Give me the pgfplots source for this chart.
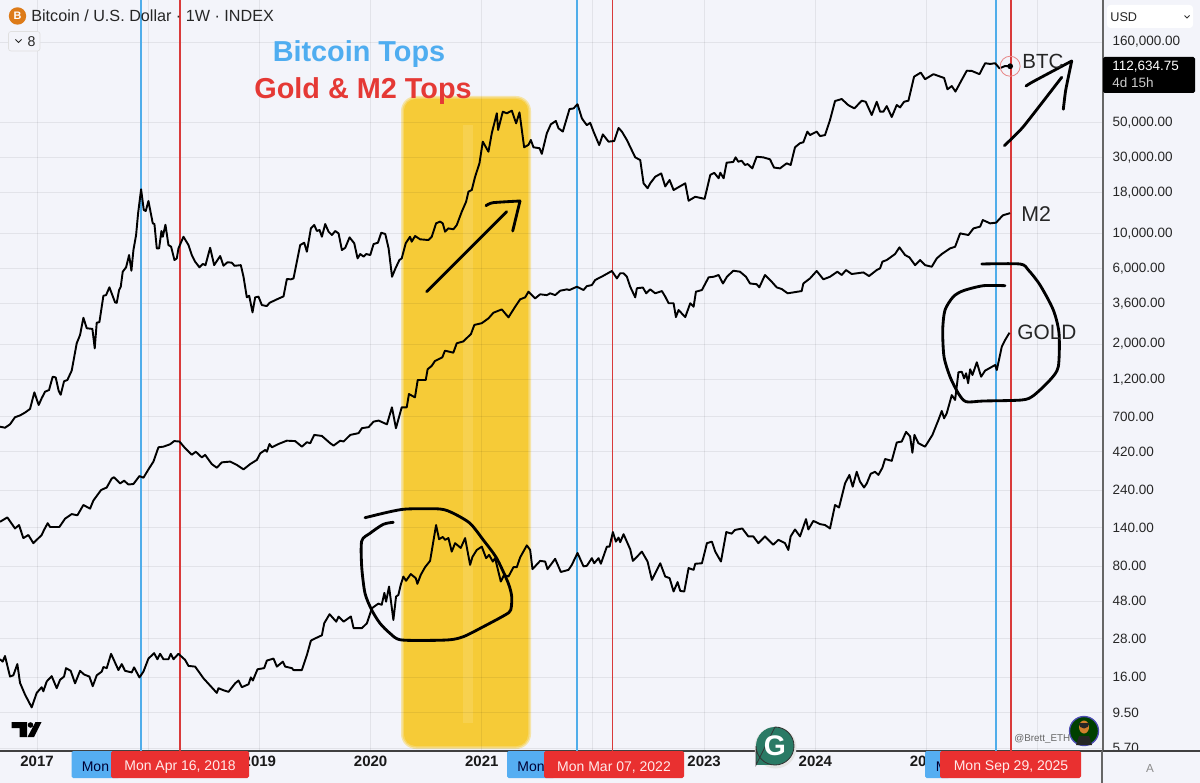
\documentclass[border=0pt]{standalone}
\usepackage{pgfplots}
\usepackage{pgfplotstable}
\usepackage{fontspec}
\setmainfont{Liberation Sans}
\pgfplotsset{compat=1.18}
\definecolor{bgc}{HTML}{F3F4FA}
\definecolor{bluec}{HTML}{4FADEA}
\definecolor{redc}{HTML}{D93A3A}
\definecolor{boxred}{HTML}{E93030}
\definecolor{boxblue}{HTML}{55AEF2}
\definecolor{titleblue}{HTML}{4FADF0}
\definecolor{titlered}{HTML}{E53935}
\definecolor{yel}{HTML}{F6CB37}
\definecolor{yelm}{HTML}{F6D667}
\definecolor{yelo}{HTML}{F5E4A8}
\definecolor{yellt}{HTML}{F7D14F}
\definecolor{gteal}{HTML}{2A7A65}
\newcommand{\fs}[1]{\fontsize{#1}{#1}\selectfont}
\pgfplotstableread{
x y
2016.667 604
2016.712 595
2016.757 625
2016.802 693
2016.847 711
2016.892 741
2016.937 781
2016.976 994
2017.015 827
2017.042 913
2017.072 1003
2017.108 1028
2017.141 1247
2017.168 1234
2017.195 1014
2017.213 960
2017.243 1167
2017.273 1189
2017.312 1362
2017.357 2026
2017.387 2283
2017.417 2933
2017.447 2519
2017.498 2493
2017.519 1883
2017.537 2732
2017.561 2750
2017.597 4034
2017.621 4072
2017.651 4563
2017.702 3665
2017.717 3640
2017.738 4385
2017.753 4598
2017.771 5720
2017.801 6095
2017.828 7283
2017.849 5800
2017.867 7830
2017.891 9737
2017.909 13340
2017.936 18890
2017.960 14000
2017.978 13800
2018.002 15950
2018.041 11530
2018.056 11420
2018.077 8023
2018.098 8023
2018.119 10320
2018.131 9496
2018.155 11300
2018.182 8420
2018.206 8220
2018.236 6775
2018.257 6937
2018.272 8023
2018.317 9496
2018.362 8420
2018.392 7283
2018.422 6612
2018.461 6095
2018.491 6400
2018.515 6290
2018.557 8095
2018.593 6290
2018.647 7180
2018.677 6240
2018.713 6560
2018.752 6520
2018.776 6230
2018.833 6290
2018.857 5315
2018.887 3942
2018.908 4034
2018.938 3172
2018.962 3942
2018.992 3985
2019.022 3525
2019.067 3475
2019.091 3640
2019.157 3830
2019.217 4000
2019.247 5145
2019.283 5120
2019.307 5190
2019.337 6612
2019.367 8420
2019.403 8710
2019.427 7640
2019.463 10720
2019.493 11270
2019.517 10320
2019.541 10470
2019.562 9496
2019.592 11420
2019.622 10220
2019.652 9737
2019.682 10320
2019.712 9970
2019.742 7830
2019.772 8095
2019.811 9410
2019.853 8640
2019.883 6937
2019.907 7390
2019.937 7120
2019.961 7390
2019.997 7283
2020.027 8540
2020.066 8710
2020.096 10070
2020.132 9880
2020.162 8023
2020.193 5315
2020.220 5920
2020.259 6775
2020.280 6937
2020.316 8640
2020.355 9496
2020.370 8840
2020.400 9600
2020.445 9150
2020.520 9055
2020.550 9496
2020.589 11530
2020.625 11830
2020.649 11530
2020.670 10220
2020.700 10720
2020.745 10580
2020.775 11250
2020.820 13660
2020.859 15780
2020.880 18250
2020.910 18700
2020.940 22680
2020.979 27540
2021.009 37720
2021.060 32600
2021.090 42600
2021.135 56900
2021.147 44700
2021.189 58260
2021.225 56900
2021.270 59100
2021.309 49200
2021.339 57700
2021.381 34760
2021.420 36000
2021.441 38650
2021.465 34760
2021.519 34300
2021.540 31600
2021.585 42600
2021.621 48500
2021.666 50900
2021.690 45800
2021.729 43650
2021.789 60500
2021.825 61100
2021.861 64900
2021.900 53000
2021.921 50400
2021.945 47900
2021.975 49600
2022.005 43650
2022.056 35900
2022.089 41900
2022.140 37720
2022.191 38100
2022.230 46000
2022.260 43650
2022.305 38650
2022.380 30030
2022.425 28900
2022.455 20610
2022.491 19200
2022.515 20610
2022.560 22680
2022.614 23800
2022.650 19700
2022.689 21630
2022.725 18700
2022.830 20610
2022.860 16020
2022.920 16960
2023.004 16450
2023.055 23280
2023.091 24000
2023.130 22170
2023.145 24050
2023.175 22170
2023.202 27800
2023.262 28100
2023.283 30030
2023.307 28200
2023.337 28600
2023.367 26900
2023.391 27250
2023.433 25600
2023.472 30300
2023.532 30030
2023.592 29200
2023.628 25900
2023.682 25600
2023.742 27540
2023.778 26900
2023.817 34760
2023.862 36900
2023.892 37400
2023.928 43650
2023.952 41500
2024.012 43650
2024.042 40900
2024.087 41500
2024.132 51650
2024.177 68000
2024.237 70000
2024.297 64000
2024.351 61100
2024.417 68300
2024.453 67300
2024.507 55500
2024.552 67300
2024.582 58300
2024.612 58300
2024.642 63200
2024.687 53900
2024.732 64200
2024.762 62000
2024.798 67300
2024.837 68300
2024.888 96800
2024.948 102700
2024.987 93300
2025.062 100400
2025.158 95000
2025.188 80600
2025.227 84500
2025.260 78000
2025.308 90100
2025.362 105600
2025.407 105200
2025.476 100400
2025.527 117700
2025.572 116400
2025.617 117700
2025.656 109300
2025.707 113000
2025.752 112635
}\btcdata
\pgfplotstableread{
x y
2016.667 152
2016.733 162
2016.802 138
2016.838 145
2016.877 120
2016.922 125.5
2016.967 111.5
2017.042 125.5
2017.063 135
2017.096 149
2017.117 141
2017.201 141
2017.252 159
2017.312 170
2017.363 167
2017.417 194
2017.477 184
2017.507 207
2017.576 241
2017.627 250
2017.672 285
2017.693 290
2017.747 265
2017.783 276
2017.822 261
2017.867 263
2017.921 295
2017.957 288
2018.002 325
2018.047 364
2018.092 448
2018.137 452
2018.197 468
2018.233 490
2018.281 487
2018.332 442
2018.392 402
2018.428 420
2018.482 387
2018.512 401
2018.572 351
2018.617 333
2018.662 360
2018.737 364
2018.797 347
2018.857 325
2018.917 351
2018.977 373
2019.007 410
2019.052 431
2019.067 420
2019.091 470
2019.112 448
2019.172 470
2019.247 493
2019.322 490
2019.382 452
2019.427 482
2019.457 475
2019.493 536
2019.562 528
2019.637 475
2019.667 459
2019.727 493
2019.757 487
2019.817 536
2019.892 550
2019.922 591
2019.982 600
2020.027 650
2020.072 660
2020.147 625
2020.192 800
2020.228 591
2020.280 800
2020.325 800
2020.345 970
2020.399 924
2020.424 1189
2020.496 1189
2020.513 1390
2020.549 1457
2020.579 1566
2020.645 1652
2020.669 1819
2020.744 1767
2020.775 2026
2020.834 2080
2020.903 2318
2020.933 2642
2021.000 2710
2021.060 2907
2021.105 3155
2021.180 3310
2021.240 2950
2021.300 3440
2021.345 3830
2021.390 3942
2021.420 4280
2021.480 3885
2021.525 4120
2021.585 4072
2021.615 4180
2021.660 4072
2021.705 4340
2021.765 4426
2021.789 4385
2021.855 4598
2021.915 4385
2021.945 4640
2021.990 4710
2022.020 5070
2022.095 5400
2022.170 5780
2022.215 5190
2022.245 5590
2022.275 5590
2022.305 5315
2022.335 4598
2022.380 3942
2022.395 4500
2022.449 4545
2022.479 4180
2022.515 4426
2022.560 4180
2022.620 4320
2022.650 3985
2022.680 3620
2022.725 3620
2022.746 2960
2022.770 3280
2022.830 2960
2022.875 3620
2022.905 3440
2022.926 4280
2022.980 4385
2023.040 5270
2023.085 5315
2023.130 5450
2023.169 4820
2023.205 5315
2023.262 5800
2023.322 5720
2023.376 5315
2023.412 4820
2023.472 4770
2023.496 4560
2023.547 5450
2023.607 4950
2023.652 4560
2023.697 4450
2023.751 4180
2023.877 4320
2023.892 4820
2023.952 5190
2024.012 5780
2024.072 5120
2024.132 5315
2024.198 5720
2024.237 5450
2024.276 5860
2024.327 5530
2024.432 5660
2024.483 5370
2024.552 5860
2024.582 6000
2024.603 6612
2024.642 6775
2024.717 7390
2024.756 8140
2024.807 7283
2024.846 7040
2024.897 6290
2024.942 6775
2024.987 6290
2025.047 6145
2025.092 6937
2025.137 7390
2025.212 8023
2025.257 8213
2025.302 9970
2025.377 9737
2025.422 10720
2025.482 11000
2025.506 12100
2025.572 11530
2025.626 11650
2025.686 12960
2025.752 13370
}\mtwodata
\pgfplotstableread{
x y
2016.667 20.7
2016.691 20.0
2016.712 21.7
2016.757 16.1
2016.787 16.4
2016.823 19.3
2016.847 14.7
2016.892 12.4
2016.952 10.3
2016.997 12.7
2017.042 13.8
2017.057 13.0
2017.087 15.0
2017.132 16.2
2017.177 13.6
2017.207 15.35
2017.243 16.1
2017.261 18.2
2017.303 17.5
2017.342 14.6
2017.387 17.5
2017.423 16.6
2017.471 16.1
2017.501 14.0
2017.537 16.4
2017.582 17.3
2017.597 18.5
2017.627 18.2
2017.666 22.4
2017.732 17.7
2017.762 19.3
2017.792 17.5
2017.852 17.1
2017.873 18.4
2017.921 15.9
2017.957 17.3
2018.002 20.9
2018.053 22.6
2018.083 20.7
2018.107 22.4
2018.137 20.7
2018.182 20.7
2018.203 22.4
2018.227 20.7
2018.272 22.4
2018.332 20.5
2018.362 18.8
2018.422 18.6
2018.497 15.7
2018.617 12.7
2018.632 13.6
2018.677 13.2
2018.722 12.9
2018.782 14.6
2018.812 15.2
2018.842 13.8
2018.902 14.4
2018.923 15.9
2018.941 15.2
2018.983 17.9
2019.043 18.2
2019.067 20.3
2019.127 20.9
2019.157 18.6
2019.211 20.0
2019.232 18.6
2019.292 18.2
2019.307 17.7
2019.382 17.7
2019.427 22.0
2019.463 27.1
2019.487 27.7
2019.562 29.3
2019.583 34.9
2019.631 39.8
2019.691 35.7
2019.712 38.4
2019.757 35.7
2019.823 38.5
2019.847 32.5
2019.922 32.5
2019.967 34.9
2020.012 43.4
2020.070 46.4
2020.100 45.6
2020.124 54.2
2020.139 47.7
2020.166 59.4
2020.205 36.6
2020.229 51.4
2020.250 52.6
2020.271 60.9
2020.295 68.7
2020.319 64.6
2020.361 71.2
2020.406 67.2
2020.421 61.8
2020.451 70.4
2020.490 78.7
2020.535 86.2
2020.589 145
2020.616 118
2020.649 122
2020.670 117
2020.700 120
2020.730 98.6
2020.760 111.5
2020.811 104
2020.850 120
2020.895 81.4
2020.916 91.3
2020.955 101
2021.000 106
2021.039 89.7
2021.066 94
2021.099 85.4
2021.120 89.7
2021.171 63.9
2021.201 70.4
2021.240 68.7
2021.285 78.7
2021.315 78.7
2021.345 90.7
2021.405 108
2021.435 101
2021.456 76.5
2021.525 86.2
2021.570 85.4
2021.591 76.5
2021.660 88.8
2021.711 73.4
2021.780 75.7
2021.810 81.4
2021.861 96.7
2021.915 79.6
2021.945 80.3
2021.990 89.7
2022.011 83.3
2022.050 89.7
2022.071 82.7
2022.125 106
2022.149 106
2022.179 131
2022.206 114
2022.230 121
2022.245 113
2022.275 127
2022.335 102
2022.359 86.2
2022.440 98.6
2022.491 85.4
2022.530 65.5
2022.605 83.3
2022.650 68.7
2022.689 67.2
2022.725 55.3
2022.761 63.4
2022.785 55.8
2022.821 55.3
2022.860 77.7
2022.905 75.7
2022.920 82.7
2022.980 83.3
2023.025 111.5
2023.070 114
2023.100 98.6
2023.151 85.4
2023.199 131
2023.247 128
2023.277 135
2023.343 138
2023.397 123
2023.442 123
2023.487 111.5
2023.547 123
2023.622 109
2023.667 117
2023.727 111.5
2023.757 101
2023.778 123
2023.817 136
2023.862 123
2023.916 158
2023.937 136
2023.982 154
2024.042 147
2024.087 145
2024.132 138
2024.177 194
2024.213 187
2024.267 265
2024.306 300
2024.336 253
2024.372 314
2024.402 272
2024.438 250
2024.462 265
2024.498 305
2024.537 314
2024.567 300
2024.603 333
2024.627 378
2024.687 368
2024.732 480
2024.777 487
2024.816 560
2024.852 525
2024.873 414
2024.891 536
2024.927 475
2024.987 452
2025.053 536
2025.107 666
2025.137 759
2025.158 682
2025.182 735
2025.227 955
2025.257 890
2025.287 1329
2025.317 1340
2025.338 1218
2025.356 1310
2025.374 1135
2025.392 1390
2025.413 1278
2025.452 1537
2025.491 1247
2025.527 1362
2025.617 1478
2025.632 1375
2025.677 1930
2025.707 2125
2025.746 2360
}\golddata
\begin{document}
\begin{tikzpicture}
\path[use as bounding box] (0pt,0pt) rectangle (720pt,-469.8pt);
\begin{scope}[x=0.6pt,y=-0.6pt]
\fill[bgc] (0,0) rectangle (1200,783);
\fill[yelo,rounded corners=9pt] (401,96) rectangle (531,749);
\fill[yelm,rounded corners=8pt] (402.5,97.5) rectangle (529.5,747.5);
\fill[yel,rounded corners=7pt] (404,99) rectangle (528,746);
\fill[yellt] (463,125) rectangle (473,723);
\end{scope}
\begin{axis}[
  at={(0pt,-450.6pt)}, anchor=south west,
  scale only axis, width=661.8pt, height=450.6pt,
  ymode=log, log basis y=10,
  xmin=2016.667, xmax=2026.587,
  ymin=5.47, ymax=294440,
  axis x line*=bottom, axis y line*=right,
  axis line style={-, color=black!70, line width=0.7pt},
  x axis line style={-, color=black!75, line width=0.7pt},
  y axis line style={-, color=black!60, line width=1.2pt},
  xtick={2017,2018,2019,2020,2021,2022,2023,2024,2025,2026},
  xticklabels={2017,,2019,2020,2021,,2023,2024,2025,},
  ytick={160000,50000,30000,18000,10000,6000,3600,2000,1200,700,420,240,140,80,48,28,16,9.5,5.7},
  yticklabels={{160,000.00},{50,000.00},{30,000.00},{18,000.00},{10,000.00},{6,000.00},{3,600.00},{2,000.00},{1,200.00},{700.00},{420.00},{240.00},{140.00},{80.00},{48.00},{28.00},{16.00},{9.50},{5.70}},
  yminorticks=false, xminorticks=false,
  major tick length=0pt,
  tick style={draw=none},
  grid=major, grid style={color=black, opacity=0.065, line width=0.6pt},
  yticklabel pos=right, xticklabel pos=bottom,
  yticklabel style={anchor=west, font=\fs{8.1}, text=black!85, inner sep=0pt, xshift=5.5pt},
  xticklabel style={anchor=center, font=\fs{9}\bfseries, text=black!90, inner sep=0pt, yshift=-6.5pt},
  clip=true,
]
\addplot[bluec, line width=1.2pt, forget plot] coordinates {(2017.936,5.47)(2017.936,294440)};
\addplot[redc, line width=1.2pt, forget plot] coordinates {(2018.286,5.47)(2018.286,294440)};
\addplot[bluec, line width=1.1pt, forget plot] coordinates {(2021.856,5.47)(2021.856,294440)};
\addplot[redc, line width=1.1pt, forget plot] coordinates {(2022.175,5.47)(2022.175,294440)};
\addplot[bluec, line width=1.4pt, forget plot] coordinates {(2025.624,5.47)(2025.624,294440)};
\addplot[redc, line width=1.4pt, forget plot] coordinates {(2025.758,5.47)(2025.758,294440)};
\addplot[black, line width=1.15pt, line join=round] table[x=x,y=y] {\btcdata};
\addplot[black, line width=1.15pt, line join=round] table[x=x,y=y] {\mtwodata};
\addplot[black, line width=1.15pt, line join=round] table[x=x,y=y] {\golddata};
\addplot[only marks, mark=*, mark size=1.5pt, black] coordinates {(2025.752,112635)};
\addplot[only marks, mark=o, mark size=6pt, mark options={draw=redc!60, line width=0.5pt}] coordinates {(2025.752,112635)};
\end{axis}
\begin{scope}[x=0.6pt,y=-0.6pt]
% headline text
\node[text=titleblue,font=\fs{17.3}\bfseries] at (359,54) {Bitcoin Tops};
\node[text=titlered,font=\fs{17.3}\bfseries] at (363,91) {Gold \& M2 Tops};
% chart title
\fill[orange!85!black!90] (17.5,16) circle (8.7);
\node[text=white,font=\fs{6.5}\bfseries] at (17.5,16) {B};
\node[anchor=west,inner sep=0pt,font=\fs{9.7},text=black!85] at (31,16) {Bitcoin / U.S. Dollar · 1W · INDEX};
\draw[black!12,fill=bgc,rounded corners=1.5pt,line width=0.4pt] (8.5,31.5) rectangle (40,51);
\draw[black!85,line width=0.6pt] (15.5,39.5) -- (18.5,42.5) -- (21.5,39.5);
\node[inner sep=0pt,font=\fs{8.5},text=black!85] at (31.5,41.5) {8};
% hand drawn strokes
\begin{scope}[black,line width=1.7pt,line cap=round,line join=round]
\draw (426.7,291.7) -- (506.7,211.7);
\draw plot[smooth,tension=0.4] coordinates {(486,205.7)(493,202.7)(520,201)};
\draw (520,201) -- (512.7,231);
\draw plot[smooth,tension=0.3] coordinates {(1004.3,145.7)(1023.3,126.7)(1061.7,77.3)};
\draw plot[smooth,tension=0.3] coordinates {(1026,86)(1033,81.7)(1071.7,61)};
\draw plot[smooth,tension=0.3] coordinates {(1071.7,61)(1065.7,90)(1063.3,109.3)};
\draw plot[smooth,tension=0.45] coordinates {(365,517.7)(390,511.7)(406.7,509)(440,509)(453.3,513.3)(470,523.3)(483.3,540)(496.7,558.3)(508.3,583.3)(511.7,596.7)(510.7,610)(505,615)(483.3,626.7)(463.3,636.7)(446.7,640)(401.7,640)(390,633.3)(380,623.3)(371.7,610)(365,593.3)(361.7,566.7)(361.7,541)(370,533.3)(383.3,524.3)(393.3,522.3)};
\draw plot[smooth,tension=0.45] coordinates {(981.7,264)(1020,264)(1028.3,270)(1040,285)(1053.3,310)(1059,333.3)(1058.3,366.7)(1050,380)(1033.3,395.7)(1021.7,400)(983.3,401)(966,401.7)(958.3,393.3)(950,376.7)(944,356.7)(942.7,330)(945,310)(953.3,296.7)(963.3,290.7)(983.3,285.7)(1005,285.7)};
\end{scope}
\node[anchor=west,inner sep=0pt,font=\fs{12.3},text=black!85] at (1022,61) {BTC};
\node[anchor=west,inner sep=0pt,font=\fs{12.8},text=black!85] at (1021,214) {M2};
\node[anchor=west,inner sep=0pt,font=\fs{12.5},text=black!85] at (1017,332) {GOLD};
% TradingView mark
\fill[black] (11.5,722) -- (27,722) -- (27,737) -- (19.5,737) -- (19.5,728) -- (11.5,728) -- cycle;
\fill[black] (30.5,725) circle (2.8);
\fill[black] (35.5,722) -- (41.5,722) -- (34,737) -- (27.5,737) -- cycle;
% watermark
\node[anchor=west,inner sep=0pt,font=\fs{5.9},text=black!60] at (1014,739) {@Brett\_ETH};
\fill[black!75!green] (1084,731) circle (14.5);
\draw[blue!40!gray,line width=0.8pt] (1084,731) circle (14.5);
\fill[brown!70!orange] (1084,727) ellipse (5 and 6.5);
\fill[black!85] (1076,745) -- (1079,736) -- (1089,736) -- (1092,745) -- cycle;
\fill[black!85] (1078.5,723) arc (180:0:5.5) -- cycle;
% bottom strip: right corner and date boxes
\fill[bgc] (1103.5,751.6) rectangle (1200,783);
\draw[black!75,line width=0.7pt] (1103,751) -- (1200,751);
\draw[black!60,line width=1.2pt] (1102,751) -- (1102,783);
\node[text=black!45,font=\fs{7}] at (1150,768) {A};
\fill[boxblue,rounded corners=1pt] (71.5,751) rectangle (120,778);
\node[anchor=west,inner sep=0pt,font=\fs{8.4},text=black!80!blue] at (81.5,767) {Mon};
\fill[boxred,rounded corners=1pt] (111,751) rectangle (249,778);
\node[text=white!92!red,font=\fs{8.4}] at (180,767) {Mon Apr 16, 2018};
\fill[boxblue,rounded corners=1pt] (507,751) rectangle (555,778);
\node[anchor=west,inner sep=0pt,font=\fs{8.4},text=black!80!blue] at (517,767) {Mon};
\fill[boxred,rounded corners=1pt] (544,751) rectangle (684,778);
\node[text=white!92!red,font=\fs{8.4}] at (614,767) {Mon Mar 07, 2022};
\fill[boxblue,rounded corners=1pt] (925,751) rectangle (950,778);
\node[anchor=west,inner sep=0pt,font=\fs{8.4},text=black!80!blue] at (935.5,767) {M};
\fill[boxred,rounded corners=1pt] (940,751) rectangle (1081,778);
\node[text=white!92!red,font=\fs{8.4}] at (1011,767) {Mon Sep 29, 2025};
% round app mark
\fill[black!10] (775.5,747.5) circle (21);
\fill[gteal] (775,746) circle (19);
\fill[gteal] (756,746) rectangle (775,765);
\draw[black!80,line width=0.5pt] (756,765) -- (756,746) arc (180:-90:19) -- cycle;
\node[text=white,font=\fs{17}\bfseries] at (775,745.5) {G};
% right panel: currency box and last price tag
\fill[white,rounded corners=2pt] (1107,5) rectangle (1193,28);
\node[anchor=west,inner sep=0pt,font=\fs{7.6},text=black!85] at (1110,17) {USD};
\draw[black!80,line width=0.5pt] (1184.5,15.5) -- (1187,18) -- (1189.5,15.5);
\fill[black,rounded corners=1pt] (1103,57) rectangle (1195,93);
\node[anchor=west,inner sep=0pt,font=\fs{8.1},text=white] at (1112,66.5) {112,634.75};
\node[anchor=west,inner sep=0pt,font=\fs{8.1},text=white!80!black] at (1112,83) {4d 15h};
\end{scope}
\end{tikzpicture}
\end{document}
